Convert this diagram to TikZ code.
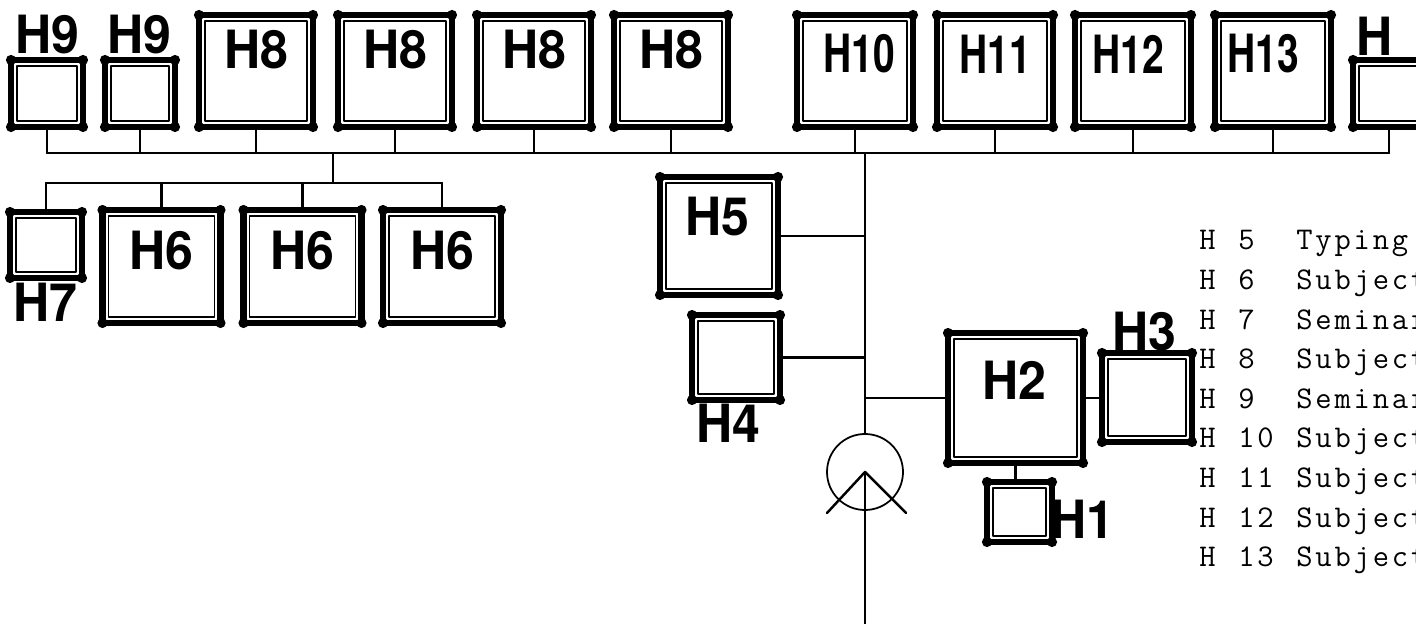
\documentclass[tikz,border=0pt]{standalone}
\usepackage{fontspec}
\newfontfamily\roomfont[FakeStretch=0.95]{TeX Gyre Heros}
\newfontfamily\roomnarrow[FakeStretch=0.74]{TeX Gyre Heros}
\newfontfamily\keyfont[LetterSpace=9]{Latin Modern Mono}
\usetikzlibrary{positioning}

\newcommand{\upx}{0.02cm}

\tikzset{
  room/.style 2 args={draw, line width=3.5pt, inner sep=0pt, outer sep=0pt,
    minimum width=#1*\upx, minimum height=#2*\upx,
    path picture={\draw[line width=0.65pt]
      ([shift={(3.4pt,-3.4pt)}]path picture bounding box.north west) rectangle
      ([shift={(-3.4pt,3.4pt)}]path picture bounding box.south east);}},
  tag/.style={inner sep=0pt, font=\roomfont\bfseries\fontsize{30}{30}\selectfont},
  tagnarrow/.style={inner sep=0pt, font=\roomnarrow\bfseries\fontsize{30}{30}\selectfont},
  wire/.style={line width=1.2pt},
  bus/.style={line width=1.4pt},
  key/.style={inner sep=0pt, anchor=base west, font=\keyfont\fontsize{18}{20}\selectfont}
}

\begin{document}
\begin{tikzpicture}[x=0.02cm, y=-0.02cm, line join=round, line cap=round]
\useasboundingbox (0,0) rectangle (1416,624);

% rooms along the upper corridor
\node[room={72}{67}] (h9a) at (47,93.5) {};
\node[room={70}{67}] (h9b) at (140,93.5) {};
\node[room={114}{112}] (h8a) at (256,71) {};
\node[room={114}{112}] (h8b) at (395,71) {};
\node[room={114}{112}] (h8c) at (534,71) {};
\node[room={114}{112}] (h8d) at (671,71) {};
\node[room={116}{112}] (h10) at (855,71) {};
\node[room={116}{112}] (h11) at (995,71) {};
\node[room={116}{112}] (h12) at (1133,71) {};
\node[room={116}{112}] (h13) at (1273,71) {};
\node[room={72}{67}] (h14) at (1389,93.5) {};

\node[tag] (h9a-tag) at (47,35) {H9};
\node[tag] (h9b-tag) at (139,35) {H9};
\foreach \r in {h8a,h8b,h8c,h8d}
  \node[tag] (\r-tag) at (\r |- 0,50) {H8};
\node[tagnarrow] (h10-tag) at (859,54) {H10};
\node[tagnarrow] (h11-tag) at (995,54) {H11};
\node[tagnarrow] (h12-tag) at (1128,54) {H12};
\node[tagnarrow] (h13-tag) at (1263,54) {H13};
\node[tag] (h14-tag) at (1375,36) {H};

% rooms on the lower branch
\node[room={72}{66}] (h7) at (46,245) {};
\node[room={118}{113}] (h6a) at (161.5,266.5) {};
\node[room={118}{113}] (h6b) at (302.5,266.5) {};
\node[room={118}{113}] (h6c) at (442,266.5) {};
\node[tag] (h7-tag) at (45,302) {H7};
\foreach \r in {h6a,h6b,h6c}
  \node[tag] (\r-tag) at (\r |- 0,251) {H6};

% rooms off the main trunk
\node[room={118}{118}] (h5) at (719,236) {};
\node[room={88}{85}] (h4) at (736,357.5) {};
\node[room={135}{130}] (h2) at (1015.5,398) {};
\node[room={90}{89}] (h3) at (1147,397.5) {};
\node[room={65}{60}] (h1) at (1019.5,512) {};
\node[tag] (h5-tag) at (717,217) {H5};
\node[tag] (h4-tag) at (728,423) {H4};
\node[tag] (h2-tag) at (1014,380) {H2};
\node[tag] (h3-tag) at (1144,332) {H3};
\node[tag] (h1-tag) at (1082,519) {H1};

% corner dots
\foreach \r in {h9a,h9b,h8a,h8b,h8c,h8d,h10,h11,h12,h13,h14,h7,h6a,h6b,h6c,h5,h4,h2,h3,h1}
  \foreach \c in {north west,north east,south west,south east}
    \fill (\r.\c) circle (2.9pt);

% corridors
\coordinate (busL) at (47,153);
\coordinate (busR) at (1389,153);
\coordinate (drop) at (333,153);
\coordinate (subL) at (46,183);
\coordinate (trunk) at (865,153);
\coordinate (exit) at (865,624);
\draw[bus] (busL) -- (busR);
\foreach \r in {h9a,h9b,h8a,h8b,h8c,h8d,h10,h11,h12,h13,h14}
  \draw[wire] (\r.south) -- (\r.south |- busL);
\draw[wire] (drop) -- (drop |- subL);
\draw[wire] (subL) -- (h6c.north |- subL);
\foreach \r in {h7,h6a,h6b,h6c}
  \draw[wire] (\r.north |- subL) -- (\r.north);

% entrance
\node[draw, circle, line width=1pt, minimum size=76*\upx, inner sep=0pt] (door) at (865,472) {};
\draw[bus] (trunk) -- (door.north);
\draw[bus] (door.center) -- (exit);
\draw[bus] ([shift={(-38,41)}]door.center) -- (door.center) -- ([shift={(41,41)}]door.center);

\draw[wire] (h5.east) -- (h5.east -| trunk);
\draw[wire] (h4.east) -- (h4.east -| trunk);
\draw[wire] (h2.west -| trunk) -- (h2.west);
\draw[wire] (h2.east) -- (h2.east -| h3.west);
\draw[wire] (h2.south) -- (h2.south |- h1.north);

% key
\foreach \n/\w [count=\i from 0] in {5/Typing,6/Subject,7/Seminar,8/Subject,9/Seminar,10/Subject,11/Subject,12/Subject,13/Subject}
  \node[key] (key\n) at (1199,250+39.6*\i) {\makebox[0.78cm][l]{H}\makebox[1.16cm][l]{\n}\w};
\end{tikzpicture}
\end{document}
